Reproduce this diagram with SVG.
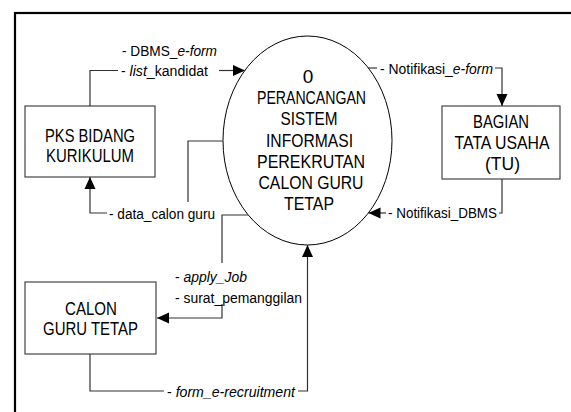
<svg xmlns="http://www.w3.org/2000/svg" width="571" height="412" viewBox="0 0 571 412">
<style>
text{font-family:"Liberation Sans Narrow","Liberation Sans",Arial,sans-serif;fill:#000}
.lbl{font-size:15.5px}
.box{font-size:19px;text-anchor:middle}
.it{font-style:italic}
.node{fill:#fff;stroke:#444;stroke-width:1.2}
.con path{fill:none;stroke:#333;stroke-width:1.2}
</style>
<defs>
<marker id="arr" viewBox="0 0 12 12" refX="12" refY="6" markerWidth="12" markerHeight="12" markerUnits="userSpaceOnUse" orient="auto">
<path d="M0,0.5 L12,6 L0,11.5 z" fill="#000"/>
</marker>
</defs>
<rect x="15" y="13" width="600" height="450" fill="#fff" stroke="#000" stroke-width="2.2"/>

<g id="process">
<ellipse cx="307.5" cy="140.5" rx="84.5" ry="104.5" fill="#fff" stroke="#000" stroke-width="1"/>
<text class="box" x="308" y="82.5">0</text>
<text class="box" x="311.5" y="104.2" textLength="109" lengthAdjust="spacingAndGlyphs">PERANCANGAN</text>
<text class="box" x="309" y="125.4" textLength="57" lengthAdjust="spacingAndGlyphs">SISTEM</text>
<text class="box" x="309.5" y="146.6" textLength="87" lengthAdjust="spacingAndGlyphs">INFORMASI</text>
<text class="box" x="311" y="167.8" textLength="108" lengthAdjust="spacingAndGlyphs">PEREKRUTAN</text>
<text class="box" x="311" y="189" textLength="105" lengthAdjust="spacingAndGlyphs">CALON GURU</text>
<text class="box" x="309" y="210.2" textLength="50" lengthAdjust="spacingAndGlyphs">TETAP</text>
</g>

<g id="pks">
<rect class="node" x="25" y="106" width="130" height="71"/>
<text class="box" x="90" y="142" textLength="90" lengthAdjust="spacingAndGlyphs">PKS BIDANG</text>
<text class="box" x="90" y="162" textLength="88" lengthAdjust="spacingAndGlyphs">KURIKULUM</text>
</g>

<g id="tu">
<rect class="node" x="442" y="106" width="118" height="73"/>
<text class="box" x="501" y="127.5" textLength="56" lengthAdjust="spacingAndGlyphs">BAGIAN</text>
<text class="box" x="502" y="149" textLength="95" lengthAdjust="spacingAndGlyphs">TATA USAHA</text>
<text class="box" x="502.5" y="169.5" textLength="35" lengthAdjust="spacingAndGlyphs">(TU)</text>
</g>

<g id="calon">
<rect class="node" x="25" y="282" width="131" height="72"/>
<text class="box" x="91" y="315" textLength="52" lengthAdjust="spacingAndGlyphs">CALON</text>
<text class="box" x="90.5" y="335" textLength="95" lengthAdjust="spacingAndGlyphs">GURU TETAP</text>
</g>

<g id="connectors" class="con">
<path d="M90,106 V70.5 H118"/>
<path d="M219,70.5 H245" marker-end="url(#arr)"/>
<path d="M223,141 H188 V202"/>
<path d="M107,213 H90 V177" marker-end="url(#arr)"/>
<path d="M248,215 H222 V263"/>
<path d="M222,304 V318 H157" marker-end="url(#arr)"/>
<path d="M90,354 V391 H164"/>
<path d="M298,391 H307.5 V245" marker-end="url(#arr)"/>
<path d="M368,68 H377"/>
<path d="M495,68 H502 V106" marker-end="url(#arr)"/>
<path d="M502,179 V213 H499"/>
<path d="M386,213 H368.5" marker-end="url(#arr)"/>
</g>

<g id="labels">
<text class="lbl" x="122" y="56" textLength="95" lengthAdjust="spacingAndGlyphs">- DBMS_<tspan class="it">e-form</tspan></text>
<text class="lbl" x="121" y="76" textLength="87" lengthAdjust="spacingAndGlyphs">- <tspan class="it">list</tspan>_kandidat</text>
<text class="lbl" x="109" y="219" textLength="106" lengthAdjust="spacingAndGlyphs">- data_calon guru</text>
<text class="lbl" x="175" y="282" textLength="72" lengthAdjust="spacingAndGlyphs">- <tspan class="it">apply_Job</tspan></text>
<text class="lbl" x="175" y="302.5" textLength="127" lengthAdjust="spacingAndGlyphs">- surat_pemanggilan</text>
<text class="lbl" x="167" y="397" textLength="128" lengthAdjust="spacingAndGlyphs">- <tspan class="it">form_e-recruitment</tspan></text>
<text class="lbl" x="380" y="74" textLength="113" lengthAdjust="spacingAndGlyphs">- Notifikasi_<tspan class="it">e-form</tspan></text>
<text class="lbl" x="388" y="218" textLength="109" lengthAdjust="spacingAndGlyphs">- Notifikasi_DBMS</text>
</g>
</svg>
